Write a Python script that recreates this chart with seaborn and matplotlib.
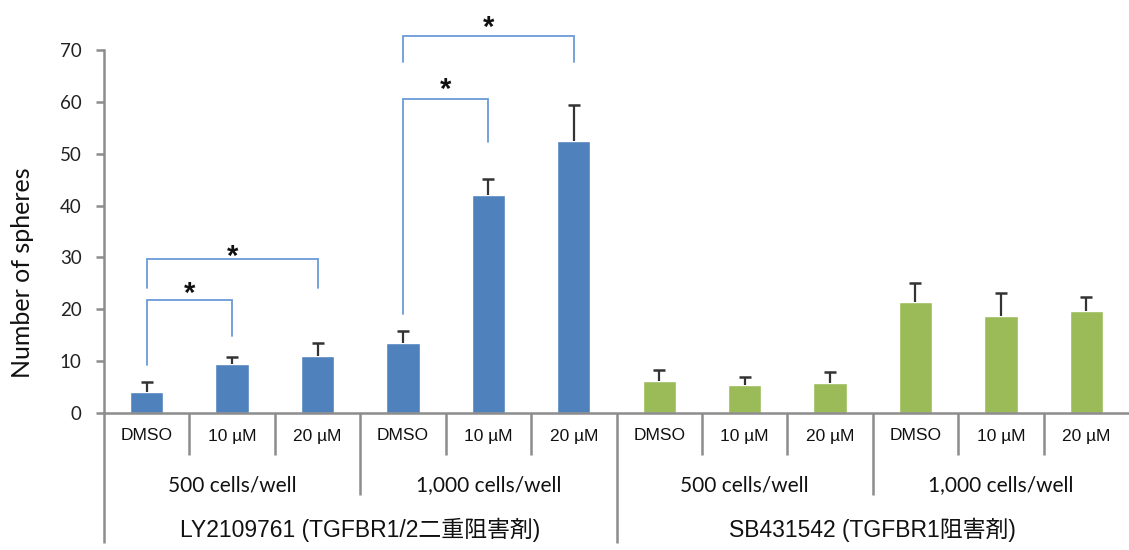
import numpy as np
import pandas as pd
import matplotlib
matplotlib.use("Agg")
import matplotlib.pyplot as plt
import matplotlib.transforms as mtransforms
import seaborn as sns

# ---------------- data ----------------
bar_ids = ["b0", "b1", "b2", "b3", "b4", "b5", "b6", "b7", "b8", "b9", "b10", "b11"]
dose_labels = ["DMSO", "10 \u00b5M", "20 \u00b5M", "DMSO", "10 \u00b5M", "20 \u00b5M",
               "DMSO", "10 \u00b5M", "20 \u00b5M", "DMSO", "10 \u00b5M", "20 \u00b5M"]
drug = ["LY"] * 6 + ["SB"] * 6
means = [4.0, 9.4, 11.0, 13.5, 42.0, 52.5, 6.1, 5.4, 5.7, 21.5, 18.8, 19.7]
errors = [1.9, 1.35, 2.5, 2.4, 3.2, 6.8, 2.1, 1.6, 2.3, 3.5, 4.3, 2.7]
cell_labels = ["500 cells/well", "1,000 cells/well", "500 cells/well", "1,000 cells/well"]
drug_labels = ["LY2109761 (TGFBR1/2\u4e8c\u91cd\u963b\u5bb3\u5264)", "SB431542 (TGFBR1\u963b\u5bb3\u5264)"]
# significance brackets: (left bar, right bar, left leg bottom, top, right leg bottom, star y)
brackets = [
    (0, 1, 9.3, 21.8, 14.9, 24.6),
    (0, 2, 24.1, 29.6, 24.1, 31.7),
    (3, 4, 19.1, 60.5, 52.3, 64.0),
    (3, 5, 67.7, 72.7, 67.7, 76.0),
]
yticks = [0, 10, 20, 30, 40, 50, 60, 70]

df = pd.DataFrame({"id": bar_ids, "mean": means, "drug": drug})

# ---------------- style ----------------
sns.set_style("white")
plt.rcParams["font.family"] = ["Lato", "DejaVu Sans"]

W, H = 1129, 550
fig = plt.figure(figsize=(W / 100, H / 100), dpi=100)
ax = fig.add_axes([104 / W, (H - 413) / H, (W - 104) / W, 413 / H])

palette = {"LY": "#4F81BD", "SB": "#9BBB59"}
sns.barplot(data=df, x="id", y="mean", hue="drug", order=bar_ids, palette=palette,
            dodge=False, width=0.39, legend=False, errorbar=None, ax=ax,
            saturation=1)

xpos = np.arange(len(bar_ids))
tops = np.array(means) + np.array(errors)
err_col = "#333333"
ax.vlines(xpos, means, tops, color=err_col, lw=1.6, zorder=3)
ax.scatter(xpos, tops, marker="_", s=70, color=err_col, linewidths=1.8, zorder=3)

# brackets
bcol = "#6A9AD8"
for (l, r, lb, top, rb, sy) in brackets:
    ax.plot([l, l, r, r], [lb, top, top, rb], color=bcol, lw=1.3,
            solid_joinstyle="miter", clip_on=False, zorder=4)
    ax.annotate("*", xy=((l + r) / 2, sy), xytext=(0, -12.0), textcoords="offset points",
                ha="center", va="baseline", fontsize=21, fontweight="bold",
                family=["Liberation Sans"], color="#111111", annotation_clip=False)

ax.set_xlim(-0.5, len(bar_ids) - 0.5)
ax.set_ylim(0, 413 / 5.186)
ax.set_xlabel("")
ax.set_ylabel("Number of spheres", fontsize=18, color="#111111")
ax.yaxis.set_label_coords(-70 / 1025, (413 - 273) / 413)

gray = "#8c8c8c"
for s in ["top", "right"]:
    ax.spines[s].set_visible(False)
ax.spines["left"].set_bounds(0, 70)
ax.spines["left"].set_color(gray)
ax.spines["left"].set_linewidth(1.8)
ax.spines["bottom"].set_color(gray)
ax.spines["bottom"].set_linewidth(1.8)
ax.set_yticks(yticks)
ax.set_yticklabels([str(t) for t in yticks], fontsize=13.5, color="#222222")
ax.tick_params(axis="y", direction="out", length=6, width=1.8, color=gray, pad=10, left=True)
ax.set_xticks([])

# multi-level category axis
trans = mtransforms.blended_transform_factory(ax.transData, ax.transAxes)
ah = 413.0
for k in range(len(bar_ids) + 1):
    b = k - 0.5
    if k in (0, 6):
        depth = 130
    elif k in (3, 9):
        depth = 82
    elif k == len(bar_ids):
        continue
    else:
        depth = 42
    ax.plot([b, b], [0, -depth / ah], color=gray, lw=1.8, transform=trans,
            clip_on=False, solid_capstyle="butt")

for i, lab in enumerate(dose_labels):
    ax.text(i, -23 / ah, lab, transform=trans, ha="center", va="center",
            fontsize=12.5, family=["Liberation Sans"], color="#111111")
for j, lab in enumerate(cell_labels):
    ax.text(3 * j + 1, -72 / ah, lab, transform=trans, ha="center", va="center",
            fontsize=15, color="#111111")
for j, lab in enumerate(drug_labels):
    ax.text(6 * j + 2.5, -117 / ah, lab, transform=trans, ha="center", va="center",
            fontsize=16.5, family=["Liberation Sans", "Noto Sans CJK JP"], color="#111111")

fig.savefig("out.png", dpi=100)
